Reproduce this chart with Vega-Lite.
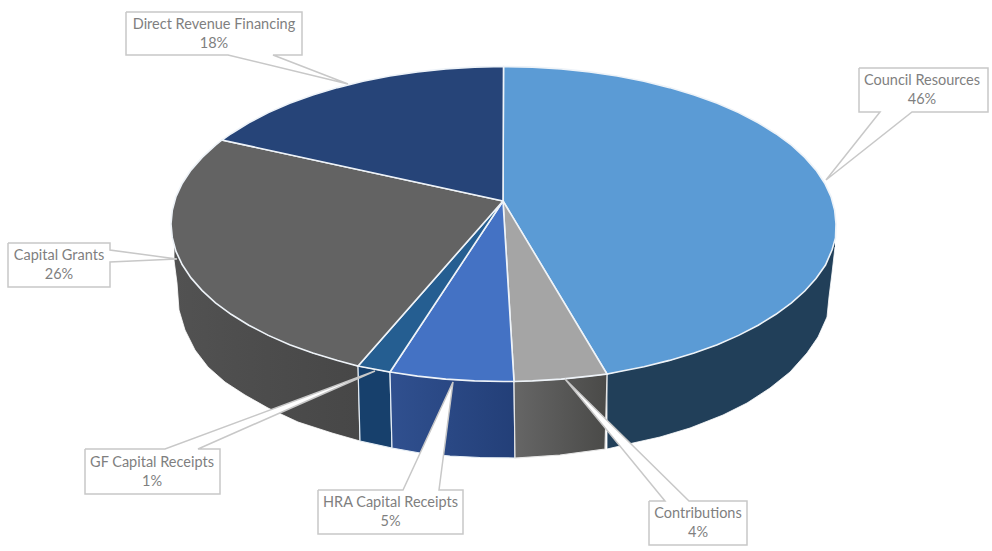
{"$schema":"https://vega.github.io/schema/vega-lite/v6.json","width":992,"height":551,"padding":0,"autosize":{"type":"none"},"background":"#ffffff","view":{"stroke":null},
"datasets":{
"tops":[
{"s":"Council Resources","o":0,"x":503,"y":201},{"s":"Council Resources","o":1,"x":503.5,"y":66.5},{"s":"Council Resources","o":2,"x":532.5,"y":67.1},{"s":"Council Resources","o":3,"x":561.2,"y":68.9},{"s":"Council Resources","o":4,"x":589.6,"y":71.9},{"s":"Council Resources","o":5,"x":617.2,"y":76},{"s":"Council Resources","o":6,"x":644,"y":81.3},{"s":"Council Resources","o":7,"x":669.5,"y":87.6},{"s":"Council Resources","o":8,"x":694.2,"y":95},{"s":"Council Resources","o":9,"x":717.3,"y":103.3},{"s":"Council Resources","o":10,"x":738.6,"y":112.6},{"s":"Council Resources","o":11,"x":758.2,"y":122.8},{"s":"Council Resources","o":12,"x":775.9,"y":133.7},{"s":"Council Resources","o":13,"x":791.5,"y":145.2},{"s":"Council Resources","o":14,"x":804.8,"y":157.4},{"s":"Council Resources","o":15,"x":816,"y":170.1},{"s":"Council Resources","o":16,"x":824.7,"y":183.2},{"s":"Council Resources","o":17,"x":831,"y":196.6},{"s":"Council Resources","o":18,"x":834.7,"y":210.3},{"s":"Council Resources","o":19,"x":836,"y":224},{"s":"Council Resources","o":20,"x":835.5,"y":238},{"s":"Council Resources","o":21,"x":832,"y":250},{"s":"Council Resources","o":22,"x":825.5,"y":265},{"s":"Council Resources","o":23,"x":816,"y":278.5},{"s":"Council Resources","o":24,"x":804.8,"y":291},{"s":"Council Resources","o":25,"x":791.5,"y":302.8},{"s":"Council Resources","o":26,"x":775.9,"y":314.3},{"s":"Council Resources","o":27,"x":758.2,"y":325.2},{"s":"Council Resources","o":28,"x":738.6,"y":335.4},{"s":"Council Resources","o":29,"x":717.3,"y":344.7},{"s":"Council Resources","o":30,"x":694.2,"y":353},{"s":"Council Resources","o":31,"x":669.5,"y":360.4},{"s":"Council Resources","o":32,"x":644,"y":366.7},{"s":"Council Resources","o":33,"x":617.2,"y":372},{"s":"Council Resources","o":34,"x":607,"y":374},{"s":"Council Resources","o":35,"x":503,"y":201},
{"s":"Contributions","o":0,"x":503,"y":201},{"s":"Contributions","o":1,"x":607,"y":374},{"s":"Contributions","o":2,"x":589.6,"y":376.1},{"s":"Contributions","o":3,"x":561.2,"y":379.1},{"s":"Contributions","o":4,"x":532.5,"y":380.9},{"s":"Contributions","o":5,"x":514,"y":381.5},{"s":"Contributions","o":6,"x":503,"y":201},
{"s":"HRA Capital Receipts","o":0,"x":503,"y":201},{"s":"HRA Capital Receipts","o":1,"x":514,"y":381.5},{"s":"HRA Capital Receipts","o":2,"x":503.5,"y":381.5},{"s":"HRA Capital Receipts","o":3,"x":474.5,"y":380.9},{"s":"HRA Capital Receipts","o":4,"x":445.8,"y":379.1},{"s":"HRA Capital Receipts","o":5,"x":417.4,"y":376.1},{"s":"HRA Capital Receipts","o":6,"x":390,"y":372},{"s":"HRA Capital Receipts","o":7,"x":503,"y":201},
{"s":"GF Capital Receipts","o":0,"x":503,"y":201},{"s":"GF Capital Receipts","o":1,"x":390,"y":372},{"s":"GF Capital Receipts","o":2,"x":363,"y":367},{"s":"GF Capital Receipts","o":3,"x":358,"y":366},{"s":"GF Capital Receipts","o":4,"x":503,"y":201},
{"s":"Capital Grants","o":0,"x":503,"y":201},{"s":"Capital Grants","o":1,"x":358,"y":366},{"s":"Capital Grants","o":2,"x":337.5,"y":360.4},{"s":"Capital Grants","o":3,"x":312.8,"y":353},{"s":"Capital Grants","o":4,"x":289.7,"y":344.7},{"s":"Capital Grants","o":5,"x":268.4,"y":335.4},{"s":"Capital Grants","o":6,"x":248.8,"y":325.2},{"s":"Capital Grants","o":7,"x":231.1,"y":314.3},{"s":"Capital Grants","o":8,"x":215.5,"y":302.8},{"s":"Capital Grants","o":9,"x":202.2,"y":290.6},{"s":"Capital Grants","o":10,"x":191,"y":277.9},{"s":"Capital Grants","o":11,"x":182.3,"y":264.8},{"s":"Capital Grants","o":12,"x":176,"y":251.4},{"s":"Capital Grants","o":13,"x":172.3,"y":237.7},{"s":"Capital Grants","o":14,"x":171,"y":224},{"s":"Capital Grants","o":15,"x":172.3,"y":210.3},{"s":"Capital Grants","o":16,"x":176,"y":196.6},{"s":"Capital Grants","o":17,"x":182.3,"y":183.2},{"s":"Capital Grants","o":18,"x":191,"y":170.1},{"s":"Capital Grants","o":19,"x":202.2,"y":157.4},{"s":"Capital Grants","o":20,"x":215.5,"y":145.2},{"s":"Capital Grants","o":21,"x":222,"y":140},{"s":"Capital Grants","o":22,"x":503,"y":201},
{"s":"Direct Revenue Financing","o":0,"x":503,"y":201},{"s":"Direct Revenue Financing","o":1,"x":222,"y":140},{"s":"Direct Revenue Financing","o":2,"x":231.1,"y":133.7},{"s":"Direct Revenue Financing","o":3,"x":248.8,"y":122.8},{"s":"Direct Revenue Financing","o":4,"x":268.4,"y":112.6},{"s":"Direct Revenue Financing","o":5,"x":289.7,"y":103.3},{"s":"Direct Revenue Financing","o":6,"x":312.8,"y":95},{"s":"Direct Revenue Financing","o":7,"x":337.5,"y":87.6},{"s":"Direct Revenue Financing","o":8,"x":363,"y":81.3},{"s":"Direct Revenue Financing","o":9,"x":389.8,"y":76},{"s":"Direct Revenue Financing","o":10,"x":417.4,"y":71.9},{"s":"Direct Revenue Financing","o":11,"x":445.8,"y":68.9},{"s":"Direct Revenue Financing","o":12,"x":474.5,"y":67.1},{"s":"Direct Revenue Financing","o":13,"x":503.5,"y":66.5},{"s":"Direct Revenue Financing","o":14,"x":503,"y":201}
],
"sides":[
{"s":"Council Resources","o":0,"x":835,"y":238},{"s":"Council Resources","o":1,"x":816,"y":277.9},{"s":"Council Resources","o":2,"x":791.5,"y":302.8},{"s":"Council Resources","o":3,"x":758.2,"y":325.2},{"s":"Council Resources","o":4,"x":717.3,"y":344.7},{"s":"Council Resources","o":5,"x":669.5,"y":360.4},{"s":"Council Resources","o":6,"x":607,"y":374},{"s":"Council Resources","o":7,"x":607,"y":449},{"s":"Council Resources","o":8,"x":633,"y":443},{"s":"Council Resources","o":9,"x":660,"y":437},{"s":"Council Resources","o":10,"x":690,"y":428},{"s":"Council Resources","o":11,"x":723,"y":415},{"s":"Council Resources","o":12,"x":747,"y":403},{"s":"Council Resources","o":13,"x":770,"y":388},{"s":"Council Resources","o":14,"x":790,"y":372},{"s":"Council Resources","o":15,"x":807,"y":353},{"s":"Council Resources","o":16,"x":818,"y":337},{"s":"Council Resources","o":17,"x":827,"y":317},{"s":"Council Resources","o":18,"x":829,"y":297},{"s":"Council Resources","o":19,"x":832,"y":273},{"s":"Council Resources","o":20,"x":835,"y":247},
{"s":"Contributions","o":0,"x":607,"y":374},{"s":"Contributions","o":1,"x":561.2,"y":379.1},{"s":"Contributions","o":2,"x":514,"y":381.5},{"s":"Contributions","o":3,"x":515,"y":458},{"s":"Contributions","o":4,"x":560,"y":455},{"s":"Contributions","o":5,"x":605,"y":449},{"s":"Contributions","o":6,"x":607,"y":374},
{"s":"HRA Capital Receipts","o":0,"x":514,"y":381.5},{"s":"HRA Capital Receipts","o":1,"x":445.8,"y":379.1},{"s":"HRA Capital Receipts","o":2,"x":390,"y":372},{"s":"HRA Capital Receipts","o":3,"x":392,"y":448},{"s":"HRA Capital Receipts","o":4,"x":420,"y":453},{"s":"HRA Capital Receipts","o":5,"x":450,"y":456},{"s":"HRA Capital Receipts","o":6,"x":480,"y":457.5},{"s":"HRA Capital Receipts","o":7,"x":515,"y":458},{"s":"HRA Capital Receipts","o":8,"x":514,"y":381.5},
{"s":"GF Capital Receipts","o":0,"x":390,"y":372},{"s":"GF Capital Receipts","o":1,"x":358,"y":366},{"s":"GF Capital Receipts","o":2,"x":360,"y":441},{"s":"GF Capital Receipts","o":3,"x":392,"y":448},{"s":"GF Capital Receipts","o":4,"x":390,"y":372},
{"s":"Capital Grants","o":0,"x":358,"y":366},{"s":"Capital Grants","o":1,"x":312.8,"y":353},{"s":"Capital Grants","o":2,"x":268.4,"y":335.4},{"s":"Capital Grants","o":3,"x":231.1,"y":314.3},{"s":"Capital Grants","o":4,"x":202.2,"y":290.6},{"s":"Capital Grants","o":5,"x":182.3,"y":264.8},{"s":"Capital Grants","o":6,"x":174,"y":245},{"s":"Capital Grants","o":7,"x":174,"y":260},{"s":"Capital Grants","o":8,"x":177,"y":283},{"s":"Capital Grants","o":9,"x":179,"y":310},{"s":"Capital Grants","o":10,"x":185,"y":330},{"s":"Capital Grants","o":11,"x":195,"y":350},{"s":"Capital Grants","o":12,"x":208,"y":367},{"s":"Capital Grants","o":13,"x":225,"y":382},{"s":"Capital Grants","o":14,"x":245,"y":395},{"s":"Capital Grants","o":15,"x":268,"y":408},{"s":"Capital Grants","o":16,"x":298,"y":422},{"s":"Capital Grants","o":17,"x":332,"y":433},{"s":"Capital Grants","o":18,"x":360,"y":441},{"s":"Capital Grants","o":19,"x":358,"y":366}
],
"callouts":[
{"s":"Council Resources","o":0,"x":859,"y":68},{"s":"Council Resources","o":1,"x":988,"y":68},{"s":"Council Resources","o":2,"x":988,"y":112},{"s":"Council Resources","o":3,"x":912,"y":112},{"s":"Council Resources","o":4,"x":826,"y":180},{"s":"Council Resources","o":5,"x":880,"y":112},{"s":"Council Resources","o":6,"x":859,"y":112},{"s":"Council Resources","o":7,"x":859,"y":68},
{"s":"Contributions","o":0,"x":649,"y":501},{"s":"Contributions","o":1,"x":665,"y":501},{"s":"Contributions","o":2,"x":565,"y":379},{"s":"Contributions","o":3,"x":689,"y":501},{"s":"Contributions","o":4,"x":747,"y":501},{"s":"Contributions","o":5,"x":747,"y":545},{"s":"Contributions","o":6,"x":649,"y":545},{"s":"Contributions","o":7,"x":649,"y":501},
{"s":"HRA Capital Receipts","o":0,"x":318,"y":490},{"s":"HRA Capital Receipts","o":1,"x":403,"y":490},{"s":"HRA Capital Receipts","o":2,"x":453,"y":382},{"s":"HRA Capital Receipts","o":3,"x":439,"y":490},{"s":"HRA Capital Receipts","o":4,"x":463,"y":490},{"s":"HRA Capital Receipts","o":5,"x":463,"y":534},{"s":"HRA Capital Receipts","o":6,"x":318,"y":534},{"s":"HRA Capital Receipts","o":7,"x":318,"y":490},
{"s":"GF Capital Receipts","o":0,"x":85,"y":449},{"s":"GF Capital Receipts","o":1,"x":165,"y":449},{"s":"GF Capital Receipts","o":2,"x":375,"y":371},{"s":"GF Capital Receipts","o":3,"x":198,"y":449},{"s":"GF Capital Receipts","o":4,"x":220,"y":449},{"s":"GF Capital Receipts","o":5,"x":220,"y":494},{"s":"GF Capital Receipts","o":6,"x":85,"y":494},{"s":"GF Capital Receipts","o":7,"x":85,"y":449},
{"s":"Capital Grants","o":0,"x":8,"y":243},{"s":"Capital Grants","o":1,"x":110,"y":243},{"s":"Capital Grants","o":2,"x":110,"y":250},{"s":"Capital Grants","o":3,"x":177,"y":259},{"s":"Capital Grants","o":4,"x":110,"y":262},{"s":"Capital Grants","o":5,"x":110,"y":287},{"s":"Capital Grants","o":6,"x":8,"y":287},{"s":"Capital Grants","o":7,"x":8,"y":243},
{"s":"Direct Revenue Financing","o":0,"x":126,"y":12},{"s":"Direct Revenue Financing","o":1,"x":302,"y":12},{"s":"Direct Revenue Financing","o":2,"x":302,"y":55},{"s":"Direct Revenue Financing","o":3,"x":273,"y":55},{"s":"Direct Revenue Financing","o":4,"x":348,"y":84},{"s":"Direct Revenue Financing","o":5,"x":228,"y":55},{"s":"Direct Revenue Financing","o":6,"x":126,"y":55},{"s":"Direct Revenue Financing","o":7,"x":126,"y":12}
],
"labels":[
{"s":"Council Resources","share":46,"label":"Council Resources\n46%","x":922,"y":81},
{"s":"Contributions","share":4,"label":"Contributions\n4%","x":698,"y":514},
{"s":"HRA Capital Receipts","share":5,"label":"HRA Capital Receipts\n5%","x":390.5,"y":503},
{"s":"GF Capital Receipts","share":1,"label":"GF Capital Receipts\n1%","x":152,"y":463},
{"s":"Capital Grants","share":26,"label":"Capital Grants\n26%","x":59,"y":256},
{"s":"Direct Revenue Financing","share":18,"label":"Direct Revenue Financing\n18%","x":214,"y":25}
]},
"encoding":{
"x":{"field":"x","type":"quantitative","scale":{"domain":[0,992],"nice":false,"zero":false},"axis":null},
"y":{"field":"y","type":"quantitative","scale":{"domain":[0,551],"nice":false,"zero":false,"reverse":true},"axis":null},
"order":{"field":"o","type":"quantitative"}
},
"layer":[
{"data":{"name":"sides"},"transform":[{"filter":"datum.s=='Council Resources'"}],"mark":{"type":"line","stroke":"#ffffff","strokeWidth":0.8,"fill":"#213f59"}},
{"data":{"name":"sides"},"transform":[{"filter":"datum.s=='Capital Grants'"}],"mark":{"type":"line","stroke":"#ffffff","strokeWidth":0.8,"fill":{"gradient":"linear","x1":0,"x2":1,"y1":0,"y2":0,"stops":[{"offset":0,"color":"#525252"},{"offset":0.5,"color":"#4c4c4c"},{"offset":1,"color":"#474747"}]}}},
{"data":{"name":"sides"},"transform":[{"filter":"datum.s=='GF Capital Receipts'"}],"mark":{"type":"line","stroke":"#e6eef5","strokeWidth":1.2,"fill":"#17406c"}},
{"data":{"name":"sides"},"transform":[{"filter":"datum.s=='HRA Capital Receipts'"}],"mark":{"type":"line","stroke":"#e6eef5","strokeWidth":1.2,"fill":{"gradient":"linear","x1":0,"x2":1,"y1":0,"y2":0,"stops":[{"offset":0,"color":"#30508f"},{"offset":1,"color":"#233f78"}]}}},
{"data":{"name":"sides"},"transform":[{"filter":"datum.s=='Contributions'"}],"mark":{"type":"line","stroke":"#e6e6e6","strokeWidth":1.2,"fill":{"gradient":"linear","x1":0,"x2":1,"y1":0,"y2":0,"stops":[{"offset":0,"color":"#666666"},{"offset":1,"color":"#4a4a48"}]}}},
{"data":{"name":"tops"},"mark":{"type":"line","stroke":"#eef3f8","strokeWidth":1.6},
"encoding":{"detail":{"field":"s"},
"fill":{"field":"s","type":"nominal","legend":null,"scale":{"domain":["Council Resources","Contributions","HRA Capital Receipts","GF Capital Receipts","Capital Grants","Direct Revenue Financing"],"range":["#5b9bd5","#a5a5a5","#4472c4","#255e91","#636363","#264478"]}}}},
{"data":{"name":"callouts"},"mark":{"type":"line","stroke":"#c8c8c8","strokeWidth":1.5,"fill":"#ffffff"},
"encoding":{"detail":{"field":"s"}}},
{"data":{"name":"labels"},"mark":{"type":"text","font":"Lato","fontSize":14.5,"color":"#7f7f7f","align":"center","baseline":"middle","lineBreak":"\n","lineHeight":19},
"encoding":{"text":{"field":"label"},"order":null}}
]}
